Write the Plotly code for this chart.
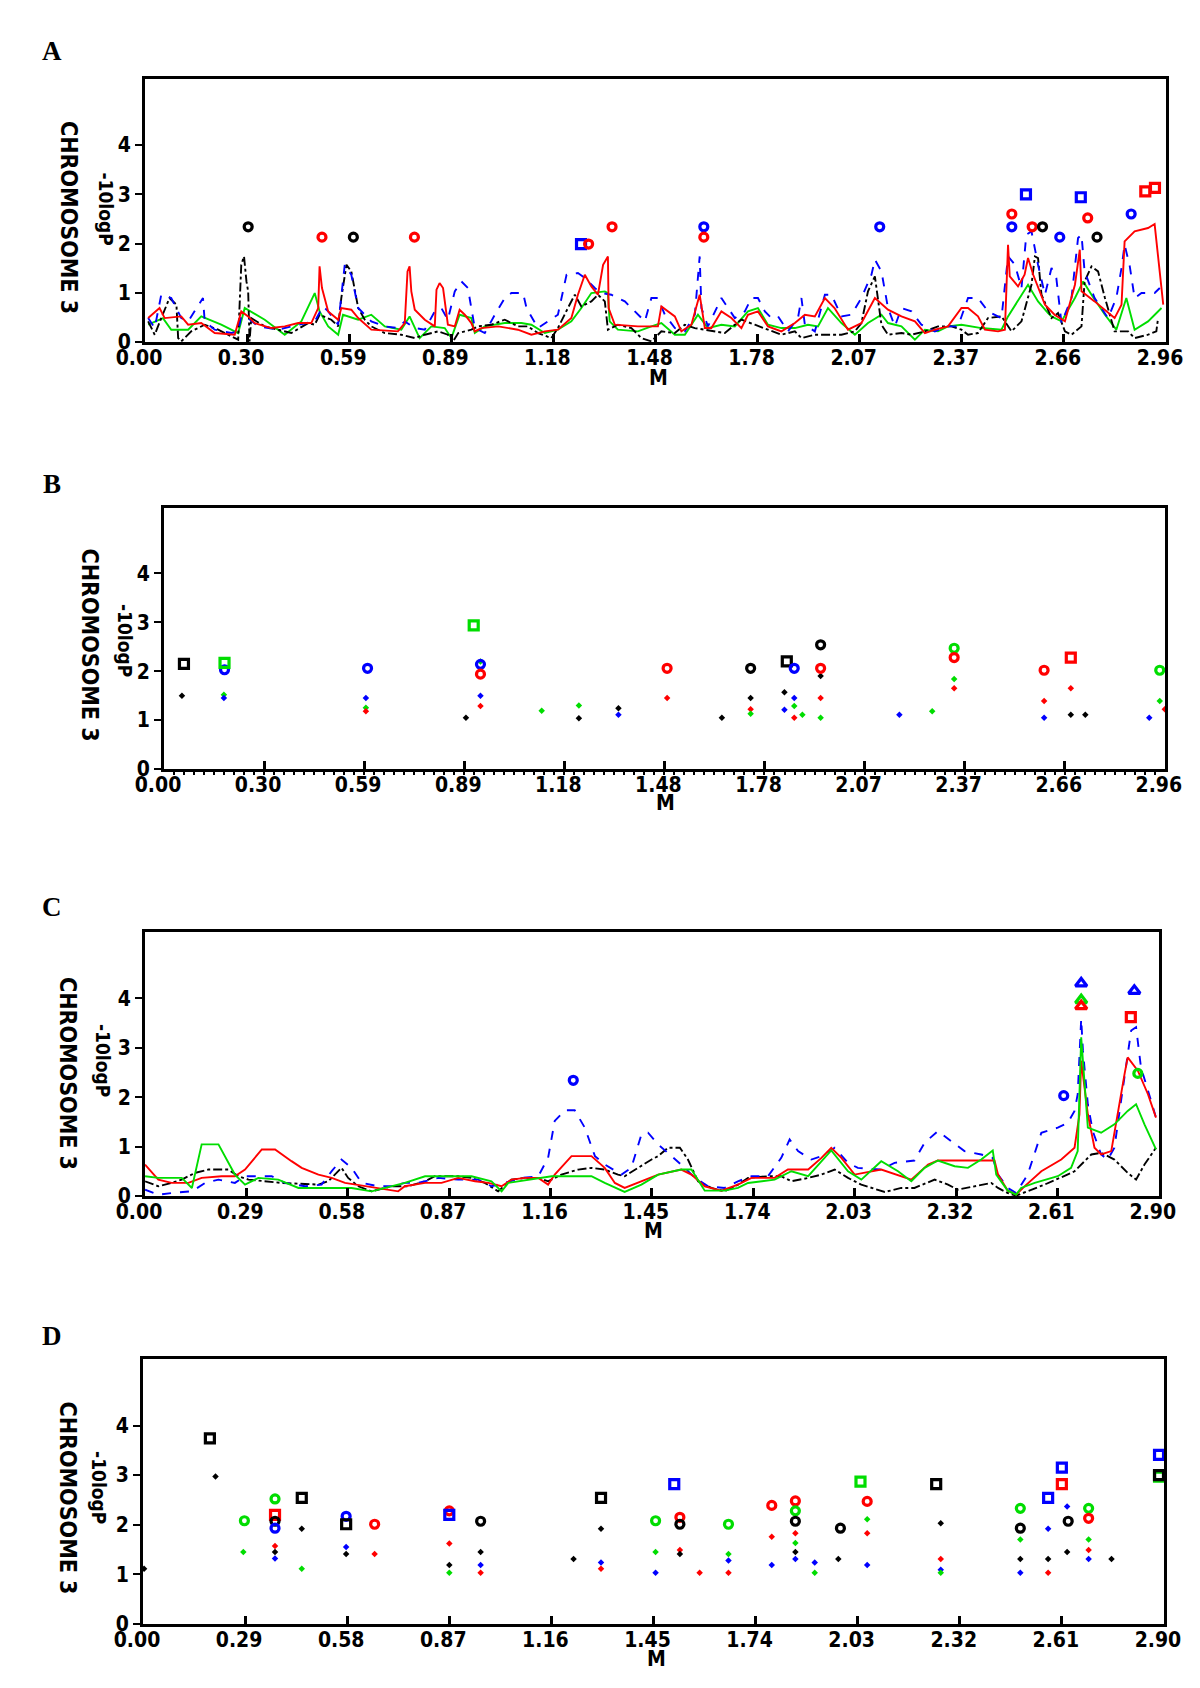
import plotly.graph_objects as go

RED = "#FF0000"; BLUE = "#0000FF"; GREEN = "#00DD00"; BLACK = "#000000"
FONT = "DejaVu Sans Condensed, DejaVu Sans, sans-serif"

# ---------------- tick labels ----------------
ticks_ab_vals = [0.0, 0.296, 0.592, 0.888, 1.184, 1.48, 1.776, 2.072, 2.368, 2.664, 2.96]
ticks_ab_text = ["0.00", "0.30", "0.59", "0.89", "1.18", "1.48", "1.78", "2.07", "2.37", "2.66", "2.96"]
ticks_cd_vals = [0.0, 0.29, 0.58, 0.87, 1.16, 1.45, 1.74, 2.03, 2.32, 2.61, 2.90]
ticks_cd_text = ["0.00", "0.29", "0.58", "0.87", "1.16", "1.45", "1.74", "2.03", "2.32", "2.61", "2.90"]
y_ticks = [0, 1, 2, 3, 4]

# ---------------- Panel A lines ----------------
a_green_x = [0.009,0.052,0.076,0.125,0.163,0.221,0.270,0.289,0.347,0.405,0.453,0.492,0.506,0.531,0.560,0.574,0.618,0.656,0.695,0.743,0.767,0.796,0.830,0.869,0.888,0.912,0.946,0.956,0.985,1.043,1.091,1.120,1.159,1.197,1.236,1.265,1.294,1.333,1.342,1.347,1.371,1.429,1.468,1.497,1.536,1.565,1.603,1.632,1.671,1.710,1.748,1.777,1.806,1.845,1.884,1.922,1.951,1.980,2.019,2.058,2.096,2.135,2.154,2.193,2.232,2.261,2.299,2.328,2.367,2.425,2.483,2.502,2.560,2.589,2.618,2.628,2.657,2.696,2.720,2.744,2.783,2.816,2.845,2.869,2.908,2.947]
a_green_y = [0.352,0.487,0.251,0.251,0.521,0.352,0.183,0.691,0.454,0.149,0.420,0.995,0.623,0.318,0.149,0.555,0.454,0.555,0.318,0.251,0.521,0.081,0.318,0.284,0.081,0.555,0.487,0.183,0.318,0.386,0.386,0.352,0.183,0.251,0.420,0.691,0.995,1.029,0.995,0.420,0.251,0.217,0.318,0.386,0.149,0.149,0.555,0.284,0.352,0.318,0.623,0.691,0.352,0.284,0.284,0.352,0.318,0.691,0.386,0.149,0.386,0.555,0.386,0.318,0.048,0.251,0.217,0.318,0.352,0.284,0.251,0.521,1.164,0.826,0.589,0.521,0.420,0.894,1.232,0.961,0.555,0.251,0.894,0.251,0.420,0.691]

a_red_x = [0.009,0.042,0.057,0.105,0.125,0.163,0.202,0.260,0.279,0.299,0.318,0.366,0.405,0.444,0.482,0.502,0.506,0.513,0.531,0.560,0.569,0.598,0.618,0.656,0.733,0.753,0.761,0.767,0.772,0.782,0.811,0.840,0.845,0.854,0.864,0.878,0.898,0.912,0.927,0.946,0.956,0.975,1.024,1.081,1.120,1.159,1.197,1.236,1.255,1.275,1.294,1.313,1.328,1.342,1.344,1.362,1.429,1.487,1.497,1.536,1.555,1.584,1.608,1.623,1.642,1.671,1.700,1.729,1.748,1.777,1.806,1.845,1.884,1.913,1.942,1.971,1.999,2.038,2.077,2.116,2.154,2.193,2.232,2.261,2.290,2.328,2.367,2.386,2.415,2.435,2.473,2.493,2.502,2.507,2.531,2.550,2.560,2.575,2.609,2.637,2.667,2.696,2.710,2.715,2.753,2.792,2.811,2.831,2.840,2.869,2.908,2.927,2.937,2.952]
a_red_y = [0.487,0.691,0.487,0.521,0.352,0.386,0.183,0.149,0.623,0.521,0.386,0.284,0.318,0.386,0.386,0.691,1.537,1.097,0.623,0.454,0.691,0.657,0.487,0.251,0.217,0.386,1.435,1.537,1.029,0.657,0.454,0.318,1.063,1.198,1.097,0.352,0.318,0.657,0.555,0.386,0.217,0.284,0.318,0.251,0.149,0.217,0.251,0.487,0.961,1.367,1.131,0.961,1.570,1.739,0.691,0.352,0.318,0.318,0.724,0.521,0.217,0.352,0.961,0.284,0.284,0.623,0.487,0.284,0.555,0.623,0.318,0.217,0.386,0.555,0.521,0.894,0.691,0.251,0.386,0.894,0.657,0.521,0.420,0.183,0.251,0.318,0.691,0.691,0.521,0.251,0.217,0.251,1.976,1.334,1.131,1.367,1.706,1.367,0.758,0.555,0.420,1.164,1.875,1.029,0.826,0.589,0.487,0.758,2.044,2.247,2.315,2.396,1.706,0.758]

a_blue_x = [0.009,0.028,0.047,0.076,0.105,0.125,0.168,0.173,0.202,0.250,0.270,0.279,0.299,0.328,0.386,0.444,0.492,0.516,0.531,0.560,0.579,0.598,0.618,0.656,0.695,0.733,0.753,0.782,0.811,0.840,0.859,0.878,0.898,0.917,0.936,0.946,0.956,0.985,1.014,1.043,1.062,1.096,1.106,1.139,1.168,1.197,1.222,1.255,1.275,1.304,1.323,1.352,1.391,1.429,1.449,1.468,1.487,1.507,1.536,1.565,1.594,1.608,1.613,1.632,1.671,1.710,1.739,1.758,1.777,1.797,1.816,1.835,1.864,1.893,1.903,1.913,1.942,1.971,1.990,2.019,2.048,2.077,2.106,2.116,2.135,2.154,2.174,2.193,2.222,2.251,2.290,2.328,2.357,2.386,2.415,2.444,2.483,2.502,2.522,2.541,2.555,2.570,2.589,2.609,2.628,2.642,2.657,2.686,2.705,2.715,2.724,2.753,2.792,2.816,2.831,2.840,2.855,2.869,2.889,2.927,2.942]
a_blue_y = [0.487,0.284,0.961,0.894,0.487,0.420,0.894,0.420,0.251,0.183,0.217,0.521,0.487,0.318,0.251,0.352,0.420,0.724,0.623,0.352,1.570,1.367,0.691,0.420,0.318,0.284,0.420,0.284,0.251,0.623,0.691,0.454,1.029,1.232,1.097,0.691,0.284,0.183,0.555,0.894,0.995,0.995,0.691,0.284,0.420,0.555,1.367,1.401,1.300,1.097,0.995,0.961,0.826,0.555,0.420,0.894,0.894,0.555,0.284,0.217,0.555,1.739,0.691,0.318,0.894,0.487,0.623,0.894,0.894,0.623,0.487,0.521,0.217,0.487,0.894,0.352,0.217,0.961,0.961,0.521,0.555,0.894,1.367,1.672,1.435,0.691,0.318,0.691,0.623,0.352,0.217,0.318,0.318,0.894,0.894,0.623,0.487,1.739,1.570,1.097,2.179,2.247,1.570,0.961,1.503,1.300,0.386,0.894,2.112,2.179,1.435,0.894,0.487,0.894,1.503,1.976,1.537,0.894,0.995,0.995,1.097]

a_black_x = [0.009,0.028,0.047,0.071,0.091,0.096,0.105,0.134,0.173,0.212,0.250,0.270,0.279,0.287,0.294,0.299,0.303,0.308,0.347,0.386,0.424,0.473,0.492,0.506,0.540,0.560,0.569,0.584,0.598,0.618,0.637,0.656,0.695,0.743,0.782,0.811,0.850,0.878,0.893,0.908,0.946,0.965,1.004,1.043,1.081,1.110,1.139,1.178,1.197,1.226,1.246,1.265,1.294,1.313,1.333,1.342,1.371,1.410,1.439,1.468,1.497,1.536,1.565,1.594,1.623,1.652,1.681,1.710,1.729,1.768,1.806,1.845,1.884,1.903,1.942,1.980,2.019,2.058,2.077,2.096,2.116,2.135,2.154,2.193,2.222,2.261,2.299,2.338,2.367,2.386,2.415,2.444,2.483,2.512,2.541,2.570,2.580,2.589,2.599,2.628,2.647,2.667,2.686,2.715,2.724,2.744,2.763,2.783,2.811,2.850,2.869,2.908,2.932,2.937]
a_black_y = [0.420,0.149,0.487,0.894,0.758,0.081,0.014,0.217,0.352,0.251,0.115,0.048,1.570,1.739,1.232,1.029,0.014,0.487,0.318,0.251,0.183,0.386,0.352,0.555,0.454,0.318,0.894,1.570,1.435,0.691,0.454,0.318,0.183,0.149,0.081,0.149,0.217,0.149,0.014,0.183,0.251,0.318,0.352,0.454,0.318,0.318,0.183,0.081,0.284,0.691,0.961,0.724,0.826,0.961,0.826,0.251,0.352,0.284,0.081,0.014,0.217,0.183,0.352,0.284,0.251,0.217,0.183,0.352,0.454,0.352,0.251,0.149,0.217,0.081,0.149,0.149,0.149,0.217,0.386,1.029,1.334,0.352,0.149,0.183,0.149,0.217,0.318,0.318,0.251,0.149,0.183,0.487,0.521,0.217,0.420,1.164,1.739,1.706,0.961,0.487,0.589,0.217,0.149,0.318,1.232,1.537,1.435,0.894,0.217,0.217,0.081,0.149,0.217,0.487]

# Panel A markers
a_mk_x = [0.299,0.513,0.604,0.781,1.264,1.286,1.354,1.620,1.620,2.130,2.513,2.513,2.554,2.572,2.602,2.652,2.713,2.733,2.760,2.859,2.900,2.928]
a_mk_y = [2.34,2.13,2.13,2.13,1.99,1.99,2.34,2.34,2.13,2.34,2.60,2.34,3.00,2.34,2.34,2.13,2.94,2.52,2.13,2.60,3.06,3.13]
a_mk_c = ["k","r","k","r","b","r","r","b","r","b","r","b","b","r","k","b","b","r","k","b","r","r"]
a_mk_s = ["o","o","o","o","s","o","o","o","o","o","o","o","s","o","o","o","s","o","o","o","s","s"]

# ---------------- Panel B markers ----------------
b_big_x = [0.059,0.179,0.179,0.602,0.916,0.936,0.936,1.488,1.735,1.842,1.864,1.942,1.942,2.337,2.337,2.603,2.682,2.945]
b_big_y = [2.15,2.03,2.17,2.06,2.94,2.14,1.94,2.06,2.06,2.20,2.06,2.54,2.06,2.47,2.28,2.02,2.28,2.02]
b_big_c = ["k","b","g","b","g","b","r","r","k","k","b","k","r","g","r","r","r","g"]
b_big_s = ["s","o","s","o","s","o","o","o","o","s","o","o","o","o","o","o","s","o"]
b_small_x = [0.053,0.177,0.177,0.597,0.597,0.597,0.893,0.936,0.936,0.936,1.117,1.227,1.227,1.344,1.344,1.488,1.650,1.735,1.735,1.735,1.835,1.864,1.835,1.864,1.864,1.888,1.942,1.942,1.942,2.175,2.272,2.337,2.337,2.603,2.603,2.682,2.682,2.725,2.914,2.945,2.960]
b_small_y = [1.50,1.52,1.45,1.45,1.25,1.18,1.05,1.50,1.29,2.20,1.19,1.30,1.04,1.11,1.24,1.45,1.05,1.45,1.22,1.13,1.57,1.45,1.21,1.29,1.05,1.11,1.90,1.45,1.05,1.11,1.18,1.84,1.65,1.39,1.05,1.65,1.11,1.11,1.05,1.39,1.22]
b_small_c = ["k","g","b","b","g","r","k","b","r","g","g","g","k","b","k","r","k","k","r","g","k","b","b","g","r","g","k","r","g","b","g","g","r","r","b","r","k","k","b","g","r"]

# ---------------- Panel C lines ----------------
c_green_x = [0.000,0.038,0.105,0.134,0.162,0.210,0.257,0.286,0.324,0.381,0.439,0.515,0.591,0.648,0.705,0.743,0.801,0.934,0.991,1.020,1.039,1.067,1.125,1.163,1.277,1.315,1.372,1.420,1.468,1.534,1.563,1.601,1.658,1.696,1.725,1.801,1.849,1.897,1.963,2.011,2.049,2.106,2.154,2.192,2.230,2.268,2.316,2.354,2.392,2.425,2.435,2.468,2.492,2.506,2.545,2.611,2.649,2.668,2.678,2.687,2.697,2.735,2.773,2.811,2.835,2.859,2.892]
c_green_y = [0.400,0.366,0.366,0.163,1.044,1.044,0.434,0.231,0.366,0.332,0.163,0.163,0.163,0.095,0.197,0.265,0.400,0.400,0.298,0.095,0.265,0.298,0.366,0.400,0.400,0.265,0.082,0.231,0.434,0.535,0.535,0.108,0.108,0.163,0.264,0.332,0.501,0.400,0.921,0.501,0.332,0.704,0.501,0.298,0.569,0.718,0.603,0.569,0.738,0.921,0.434,0.108,0.027,0.163,0.264,0.400,0.569,0.908,3.211,2.398,1.382,1.280,1.450,1.721,1.856,1.450,0.942]

c_red_x = [0.000,0.038,0.076,0.124,0.162,0.219,0.257,0.286,0.334,0.372,0.419,0.448,0.496,0.534,0.572,0.629,0.686,0.724,0.743,0.801,0.848,0.896,0.944,0.982,1.020,1.048,1.087,1.125,1.153,1.172,1.220,1.277,1.315,1.344,1.372,1.410,1.468,1.534,1.563,1.601,1.649,1.696,1.735,1.801,1.839,1.897,1.935,1.963,1.992,2.030,2.106,2.192,2.240,2.268,2.430,2.440,2.468,2.492,2.516,2.564,2.621,2.659,2.673,2.678,2.687,2.697,2.716,2.735,2.764,2.783,2.802,2.811,2.840,2.869,2.892]
c_red_y = [0.637,0.332,0.265,0.265,0.366,0.400,0.400,0.535,0.942,0.942,0.705,0.569,0.434,0.366,0.265,0.197,0.129,0.095,0.197,0.265,0.265,0.366,0.298,0.265,0.197,0.332,0.366,0.366,0.231,0.434,0.807,0.807,0.569,0.265,0.163,0.265,0.434,0.535,0.434,0.196,0.108,0.230,0.366,0.366,0.535,0.535,0.772,0.976,0.772,0.434,0.535,0.332,0.637,0.718,0.718,0.434,0.108,0.027,0.196,0.501,0.738,0.976,1.653,2.737,2.263,1.653,0.976,0.840,0.908,1.721,2.466,2.805,2.534,2.059,1.585]

c_blue_x = [0.000,0.038,0.076,0.134,0.172,0.210,0.257,0.286,0.362,0.400,0.458,0.505,0.534,0.562,0.591,0.620,0.667,0.705,0.743,0.782,0.839,0.896,0.953,0.991,1.029,1.077,1.125,1.153,1.172,1.201,1.229,1.258,1.287,1.315,1.363,1.391,1.420,1.439,1.468,1.506,1.544,1.573,1.611,1.658,1.696,1.735,1.782,1.820,1.844,1.868,1.906,1.935,1.973,2.011,2.039,2.106,2.144,2.201,2.230,2.268,2.306,2.344,2.392,2.425,2.440,2.468,2.492,2.525,2.564,2.611,2.640,2.659,2.668,2.678,2.683,2.697,2.711,2.735,2.754,2.773,2.792,2.821,2.835,2.849,2.878,2.892]
c_blue_y = [0.129,0.027,0.061,0.095,0.265,0.332,0.265,0.400,0.400,0.265,0.197,0.231,0.502,0.739,0.569,0.265,0.197,0.197,0.265,0.265,0.366,0.332,0.332,0.197,0.265,0.366,0.400,0.773,1.518,1.735,1.735,1.382,0.807,0.637,0.434,0.569,1.247,1.280,1.043,0.806,0.569,0.366,0.196,0.163,0.298,0.400,0.400,0.772,1.145,0.908,0.738,0.806,0.976,0.671,0.569,0.535,0.671,0.718,1.077,1.314,1.111,0.908,0.840,0.772,0.434,0.163,0.061,0.434,1.280,1.382,1.484,1.721,2.059,3.584,2.940,1.856,1.314,0.840,0.738,0.976,1.924,3.347,3.414,2.602,1.924,1.585]

c_black_x = [0.000,0.038,0.076,0.105,0.143,0.181,0.238,0.267,0.296,0.343,0.391,0.458,0.496,0.524,0.562,0.581,0.610,0.648,0.705,0.753,0.801,0.829,0.896,0.934,0.972,1.010,1.048,1.087,1.125,1.153,1.191,1.239,1.277,1.315,1.353,1.372,1.410,1.449,1.468,1.496,1.530,1.553,1.582,1.620,1.658,1.696,1.725,1.782,1.820,1.849,1.897,1.935,1.973,2.011,2.049,2.116,2.163,2.201,2.259,2.297,2.325,2.373,2.421,2.440,2.468,2.492,2.525,2.573,2.621,2.659,2.707,2.735,2.773,2.811,2.835,2.859,2.892]
c_black_y = [0.298,0.197,0.265,0.332,0.468,0.535,0.535,0.400,0.332,0.298,0.265,0.244,0.231,0.298,0.569,0.366,0.197,0.095,0.197,0.197,0.298,0.400,0.400,0.366,0.265,0.095,0.332,0.366,0.366,0.298,0.434,0.535,0.569,0.535,0.434,0.400,0.569,0.739,0.807,0.976,0.976,0.738,0.298,0.163,0.095,0.230,0.366,0.400,0.400,0.298,0.366,0.434,0.535,0.366,0.230,0.081,0.163,0.163,0.332,0.230,0.129,0.196,0.264,0.163,0.061,0.007,0.095,0.230,0.379,0.501,0.840,0.874,0.738,0.467,0.332,0.637,0.976]

# Panel C markers
c_mk_x = [1.225,2.628,2.678,2.678,2.678,2.830,2.820,2.840,2.905]
c_mk_y = [2.34,2.03,4.30,3.96,3.84,4.15,3.62,2.48,2.03]
c_mk_c = ["b","b","b","g","r","b","r","g","b"]
c_mk_s = ["o","o","t","t","t","t","s","o","o"]

# ---------------- Panel D markers ----------------
d_big_x = [0.190,0.288,0.375,0.375,0.375,0.375,0.451,0.577,0.577,0.658,0.870,0.870,0.959,1.301,1.456,1.509,1.525,1.525,1.663,1.786,1.853,1.853,1.853,1.981,2.038,2.057,2.253,2.492,2.492,2.571,2.610,2.610,2.628,2.686,2.686,2.886,2.886,2.886,2.910]
d_big_y = [3.74,2.08,2.52,2.20,2.07,1.93,2.54,2.17,2.01,2.01,2.28,2.20,2.07,2.54,2.08,2.82,2.15,2.01,2.01,2.39,2.48,2.28,2.07,1.93,2.87,2.47,2.82,2.33,1.93,2.54,3.15,2.82,2.07,2.33,2.13,3.41,2.97,3.00,2.35]
d_big_c = ["k","g","g","r","k","b","k","b","k","r","r","b","k","k","g","b","r","k","g","r","r","g","k","k","g","r","k","g","k","b","b","r","k","g","r","b","g","k","r"]
d_big_s = ["s","o","o","s","o","o","s","o","s","o","o","s","o","s","o","s","o","o","o","o","o","o","o","o","s","o","s","o","o","s","s","s","o","o","o","s","s","s","o"]
d_small_x = [0.003,0.206,0.285,0.375,0.375,0.375,0.451,0.451,0.577,0.577,0.658,0.870,0.870,0.870,0.959,0.959,0.959,1.223,1.301,1.301,1.301,1.456,1.456,1.525,1.525,1.581,1.663,1.663,1.663,1.786,1.786,1.853,1.853,1.853,1.853,1.908,1.908,1.975,2.057,2.057,2.057,2.266,2.266,2.266,2.266,2.492,2.492,2.492,2.571,2.571,2.571,2.625,2.625,2.686,2.686,2.686,2.751]
d_small_y = [1.11,2.97,1.45,1.57,1.45,1.32,1.92,1.11,1.55,1.41,1.41,1.62,1.19,1.03,1.45,1.19,1.03,1.31,1.92,1.24,1.11,1.45,1.03,1.49,1.41,1.03,1.41,1.28,1.03,1.76,1.19,1.83,1.63,1.45,1.31,1.24,1.03,1.31,2.11,1.83,1.19,2.03,1.31,1.09,1.03,1.70,1.31,1.03,1.92,1.31,1.03,2.37,1.45,1.70,1.49,1.31,1.31]
d_small_c = ["k","k","g","r","k","b","k","g","b","k","r","r","k","g","k","b","r","k","k","b","r","g","b","r","k","r","g","b","r","r","b","r","g","k","b","b","g","k","g","r","b","k","r","b","g","g","k","b","b","k","r","b","k","g","r","b","k"]

# ---------------- build figure ----------------
CMAP = {"r": RED, "b": BLUE, "g": GREEN, "k": BLACK}
SMAP = {"o": "circle-open", "s": "square-open", "t": "triangle-up-open"}
SIZE = {"o": 8, "s": 9, "t": 10}

fig = go.Figure()

def add_line(x, y, color, dash, ax):
    fig.add_trace(go.Scatter(x=x, y=y, mode="lines", xaxis="x" + ax, yaxis="y" + ax,
                             line=dict(color=color, width=1.9, dash=dash),
                             showlegend=False, hoverinfo="skip", cliponaxis=True))

def add_big(x, y, cols, shapes, ax):
    fig.add_trace(go.Scatter(x=x, y=y, mode="markers", xaxis="x" + ax, yaxis="y" + ax,
                             marker=dict(symbol=[SMAP[s] for s in shapes],
                                         size=[SIZE[s] for s in shapes], opacity=1,
                                         color=[CMAP[c] for c in cols],
                                         line=dict(width=3.2, color=[CMAP[c] for c in cols])),
                             showlegend=False, cliponaxis=False))

def add_small(x, y, cols, ax):
    fig.add_trace(go.Scatter(x=x, y=y, mode="markers", xaxis="x" + ax, yaxis="y" + ax,
                             marker=dict(symbol="diamond", size=5, opacity=1,
                                         color=[CMAP[c] for c in cols], line=dict(width=0)),
                             showlegend=False, cliponaxis=False))

# Panel A (axis "")
add_line(a_green_x, a_green_y, GREEN, "solid", "")
add_line(a_black_x, a_black_y, BLACK, "dashdot", "")
add_line(a_blue_x, a_blue_y, BLUE, "dash", "")
add_line(a_red_x, a_red_y, RED, "solid", "")
add_big(a_mk_x, a_mk_y, a_mk_c, a_mk_s, "")

# Panel B
add_small(b_small_x, b_small_y, b_small_c, "2")
add_big(b_big_x, b_big_y, b_big_c, b_big_s, "2")

# Panel C
add_line(c_black_x, c_black_y, BLACK, "dashdot", "3")
add_line(c_blue_x, c_blue_y, BLUE, "dash", "3")
add_line(c_red_x, c_red_y, RED, "solid", "3")
add_line(c_green_x, c_green_y, GREEN, "solid", "3")
add_big(c_mk_x, c_mk_y, c_mk_c, c_mk_s, "3")

# Panel D
add_small(d_small_x, d_small_y, d_small_c, "4")
add_big(d_big_x, d_big_y, d_big_c, d_big_s, "4")

tickfont = dict(family=FONT, size=21, color="black", weight="bold")

def xax(domain, anchor, vals, text, rng, minor=False):
    d = dict(domain=domain, anchor=anchor, range=rng, tickmode="array", tickvals=vals, ticktext=text,
             ticks="inside", ticklen=8, tickwidth=3, tickcolor="black", automargin=False,
             showline=True, linewidth=3, linecolor="black", mirror=True,
             showgrid=False, zeroline=False, tickfont=tickfont, ticklabelshift=-6,
             ticklabelstandoff=-5, fixedrange=True)
    if minor:
        d["minor"] = dict(ticks="outside", ticklen=3, tickwidth=2, tickcolor="black",
                          tickmode="linear", tick0=0, dtick=0.0296, showgrid=False)
    return d

def yax(domain, anchor):
    return dict(domain=domain, anchor=anchor, range=[0, 5.34], tickmode="array", tickvals=y_ticks,
                ticks="outside", ticklen=7, tickwidth=2, tickcolor="black", automargin=False,
                showline=True, linewidth=3, linecolor="black", mirror=True,
                showgrid=False, zeroline=False, tickfont=tickfont, fixedrange=True)

fig.update_layout(
    width=1200, height=1688, margin=dict(l=0, r=0, t=0, b=0, pad=0, autoexpand=False),
    paper_bgcolor="white", plot_bgcolor="white", showlegend=False,
    xaxis=xax([0.1142, 0.965], "y", ticks_ab_vals, ticks_ab_text, [0, 2.96]),
    yaxis=yax([0.8021, 0.9579], "x"),
    xaxis2=xax([0.130, 0.964], "y2", ticks_ab_vals, ticks_ab_text, [0, 2.96], minor=True),
    yaxis2=yax([0.5492, 0.7038], "x2"),
    xaxis3=xax([0.1142, 0.959], "y3", ticks_cd_vals, ticks_cd_text, [0, 2.90]),
    yaxis3=yax([0.2962, 0.4526], "x3"),
    xaxis4=xax([0.1125, 0.9633], "y4", ticks_cd_vals, ticks_cd_text, [0, 2.90]),
    yaxis4=yax([0.0427, 0.1996], "x4"),
)

panel_letters = ["A", "B", "C", "D"]
letter_pos = [(0.0367, 0.9745), (0.0367, 0.718), (0.0367, 0.4674), (0.0367, 0.2133)]
chrom_pos = [(0.0508, 0.8756), (0.0679, 0.6226), (0.0500, 0.3691), (0.0496, 0.1173)]
logp_pos = [(0.0813, 0.8809), (0.0975, 0.6256), (0.0792, 0.3768), (0.0758, 0.1232)]
m_pos = [(0.5417, 0.7810), (0.5475, 0.5292), (0.5375, 0.2757), (0.5400, 0.0221)]

for i in range(4):
    fig.add_annotation(text=panel_letters[i], x=letter_pos[i][0], y=letter_pos[i][1], xref="paper", yref="paper",
                       showarrow=False, xanchor="center", yanchor="middle",
                       font=dict(family="Liberation Serif, Times New Roman, serif", size=27, color="black", weight="bold"))
    fig.add_annotation(text="CHROMOSOME 3", x=chrom_pos[i][0], y=chrom_pos[i][1], xref="paper", yref="paper",
                       showarrow=False, textangle=90, xanchor="center", yanchor="middle",
                       font=dict(family=FONT, size=23, color="black", weight="bold"))
    fig.add_annotation(text="-10logP", x=logp_pos[i][0], y=logp_pos[i][1], xref="paper", yref="paper",
                       showarrow=False, textangle=90, xanchor="center", yanchor="middle",
                       font=dict(family=FONT, size=19, color="black", weight="bold"))
    fig.add_annotation(text="M", x=m_pos[i][0], y=m_pos[i][1], xref="paper", yref="paper",
                       showarrow=False, xanchor="center", yanchor="middle",
                       font=dict(family=FONT, size=21, color="black", weight="bold"))

fig.write_html("out.html")
